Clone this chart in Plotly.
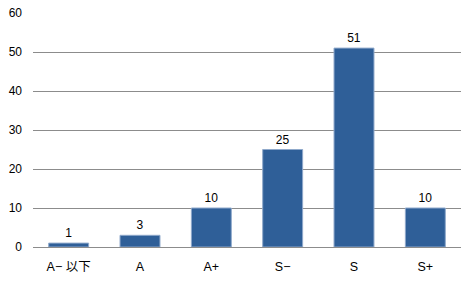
import plotly.graph_objects as go

categories = ["A− 以下", "A", "A+", "S−", "S", "S+"]
values = [1, 3, 10, 25, 51, 10]
y_ticks = [0, 10, 20, 30, 40, 50, 60]

font_family = "Liberation Sans, Noto Sans CJK JP, Arial, sans-serif"

fig = go.Figure(go.Bar(
    x=categories,
    y=values,
    text=[str(v) for v in values],
    textposition="outside",
    textfont=dict(size=12, color="#000000", family=font_family),
    marker=dict(color="#2F5F98", line=dict(color="#8FA9CB", width=1)),
    cliponaxis=False,
))

fig.update_layout(
    width=466, height=282,
    margin=dict(l=33, r=5, t=13, b=35),
    paper_bgcolor="white", plot_bgcolor="white",
    bargap=0.44,
    showlegend=False,
    font=dict(family=font_family, size=12, color="#000000"),
)
fig.update_yaxes(
    range=[0, 60], tickvals=y_ticks,
    showgrid=True, gridcolor="#8C8C8C", gridwidth=1,
    zeroline=False, showline=False,
    ticks="", ticklabelstandoff=10,
    tickfont=dict(size=12, color="#000000"),
)
fig.update_xaxes(
    showline=True, linecolor="#8C8C8C", linewidth=1,
    ticks="", ticklabelstandoff=8,
    tickfont=dict(size=12.5, color="#000000"),
)
fig.write_html("out.html")
